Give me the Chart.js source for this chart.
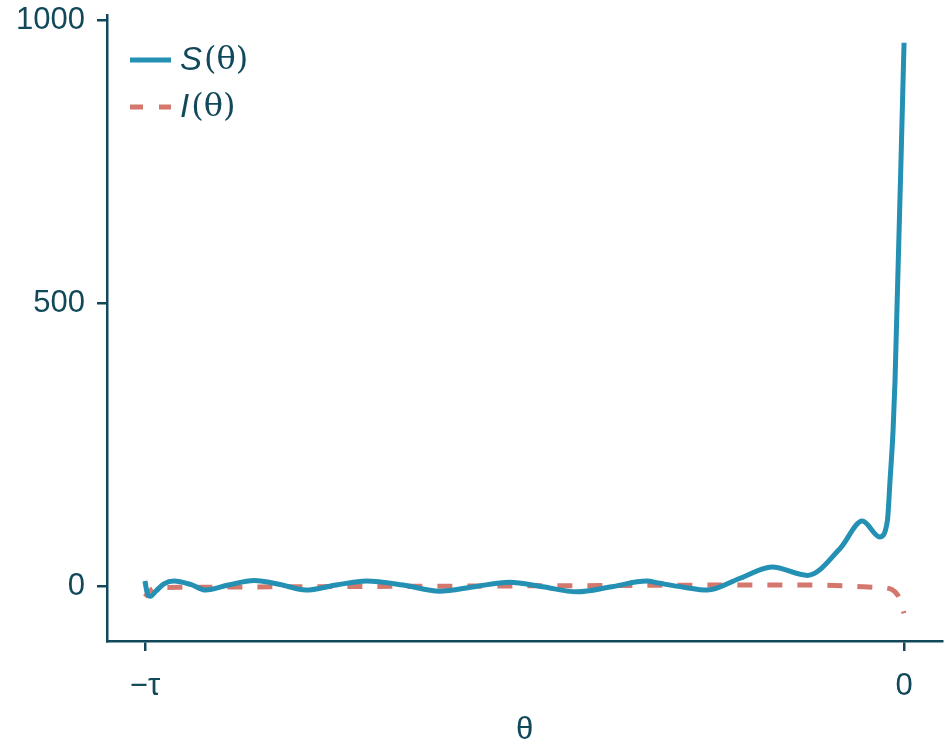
<!DOCTYPE html>
<html>
<head>
<meta charset="utf-8">
<script src="https://cdn.jsdelivr.net/npm/chart.js@4"></script>
<style>
  html, body { margin: 0; padding: 0; background: #fff; }
  #wrap { width: 944px; height: 746px; }
</style>
</head>
<body>
<div id="wrap"><canvas id="chart" width="944" height="746"></canvas></div>
<script>
// theta in units of tau (−1 … 0)
const thetaS = [-1.000, -0.997, -0.993, -0.985, -0.975, -0.962, -0.940, -0.920, -0.890, -0.856,
                -0.822, -0.788, -0.748, -0.708, -0.660, -0.612, -0.566, -0.520, -0.476, -0.431,
                -0.385, -0.339, -0.322, -0.290, -0.259, -0.216, -0.174, -0.127, -0.084, -0.055,
                -0.032, -0.022, -0.0185, -0.0145, -0.0119, 0.000];
const sVals  = [9, -12, -18, -8, 4, 9, 3, -7, 2, 10,
                3, -7, 2, 9, 2, -9, -1, 7, -1, -10,
                -1, 9, 5, -2, -7, 14, 34, 19, 67, 115,
                87, 115, 186, 274, 363, 961];

const thetaI = [-1.000, -0.993, -0.985, -0.950, -0.800, -0.600, -0.400, -0.200, -0.120, -0.070,
                -0.040, -0.020, -0.012, -0.006, 0.000];
const iVals  = [-19, -8, -3, -2, -1, 0, 1, 2, 2, 0,
                -2, -4, -10, -22, -48];

const xTicks = [-1, 0];
const xTickLabels = ['\u2212\u03C4', '0'];
const yTicks = [0, 500, 1000];

const INK = '#11485a';
const BLUE = '#2390b4';
const SALMON = '#d4776c';
const FONT = '"Liberation Sans", Arial, sans-serif';

function toPoints(xs, ys) {
    return xs.map((x, i) => ({ x: x, y: ys[i] }));
}

// legend with italic function name and upright "(θ)"
const mathLegend = {
    id: 'mathLegend',
    afterDraw(chart) {
        const ctx = chart.ctx;
        const rows = [
            { name: 'S', color: BLUE, dash: [], y: 60 },
            { name: 'I', color: SALMON, dash: [13, 16], y: 107 }
        ];
        ctx.save();
        rows.forEach(r => {
            ctx.strokeStyle = r.color;
            ctx.lineWidth = 5;
            ctx.setLineDash(r.dash);
            ctx.beginPath();
            ctx.moveTo(130, r.y);
            ctx.lineTo(171, r.y);
            ctx.stroke();
            ctx.setLineDash([]);
            ctx.fillStyle = INK;
            ctx.textBaseline = 'middle';
            ctx.font = 'italic 33px ' + FONT;
            ctx.fillText(r.name, 180, r.y + 1);
            const w = ctx.measureText(r.name).width;
            ctx.font = '32px "DejaVu Serif", serif';
            ctx.fillText('(\u03B8)', 180 + w + 2, r.y + 1);
        });
        ctx.restore();
    }
};

new Chart(document.getElementById('chart'), {
    type: 'line',
    data: {
        datasets: [
            {
                label: 'S(\u03B8)',
                data: toPoints(thetaS, sVals),
                borderColor: BLUE,
                borderWidth: 5,
                pointRadius: 0,
                cubicInterpolationMode: 'monotone',
                fill: false
            },
            {
                label: 'I(\u03B8)',
                data: toPoints(thetaI, iVals),
                borderColor: SALMON,
                borderWidth: 5,
                borderDash: [15, 15],
                borderDashOffset: 4,
                pointRadius: 0,
                cubicInterpolationMode: 'monotone',
                fill: false
            }
        ]
    },
    options: {
        responsive: false,
        animation: false,
        layout: { padding: { top: 15, right: 2, left: 0, bottom: 0 } },
        plugins: {
            legend: { display: false },
            tooltip: { enabled: false }
        },
        scales: {
            x: {
                type: 'linear',
                min: -1.05,
                max: 0.05,
                afterBuildTicks: s => { s.ticks = xTicks.map(v => ({ value: v })); },
                afterFit: s => { s.height = 105; s.paddingLeft = 0; s.paddingRight = 0; },
                ticks: {
                    color: INK,
                    font: { family: FONT, size: 31 },
                    padding: 17,
                    maxRotation: 0,
                    callback: v => xTickLabels[xTicks.indexOf(v)]
                },
                grid: { drawOnChartArea: false, drawTicks: true, tickLength: 10, color: INK, lineWidth: 2.5 },
                border: { display: true, color: INK, width: 2.5 },
                title: {
                    display: true,
                    text: '\u03B8',
                    color: INK,
                    font: { family: FONT, size: 31, lineHeight: 1.0 },
                    padding: { top: 0, bottom: 0 }
                }
            },
            y: {
                min: -97,
                max: 1010,
                afterBuildTicks: s => { s.ticks = yTicks.map(v => ({ value: v })); },
                afterFit: s => { s.width = 107; s.paddingTop = 0; s.paddingBottom = 0; },
                ticks: {
                    color: INK,
                    font: { family: FONT, size: 31 },
                    padding: 12,
                    callback: v => String(v)
                },
                grid: { drawOnChartArea: false, drawTicks: true, tickLength: 10, color: INK, lineWidth: 2.5 },
                border: { display: true, color: INK, width: 2.5 }
            }
        }
    },
    plugins: [mathLegend]
});
</script>
</body>
</html>
